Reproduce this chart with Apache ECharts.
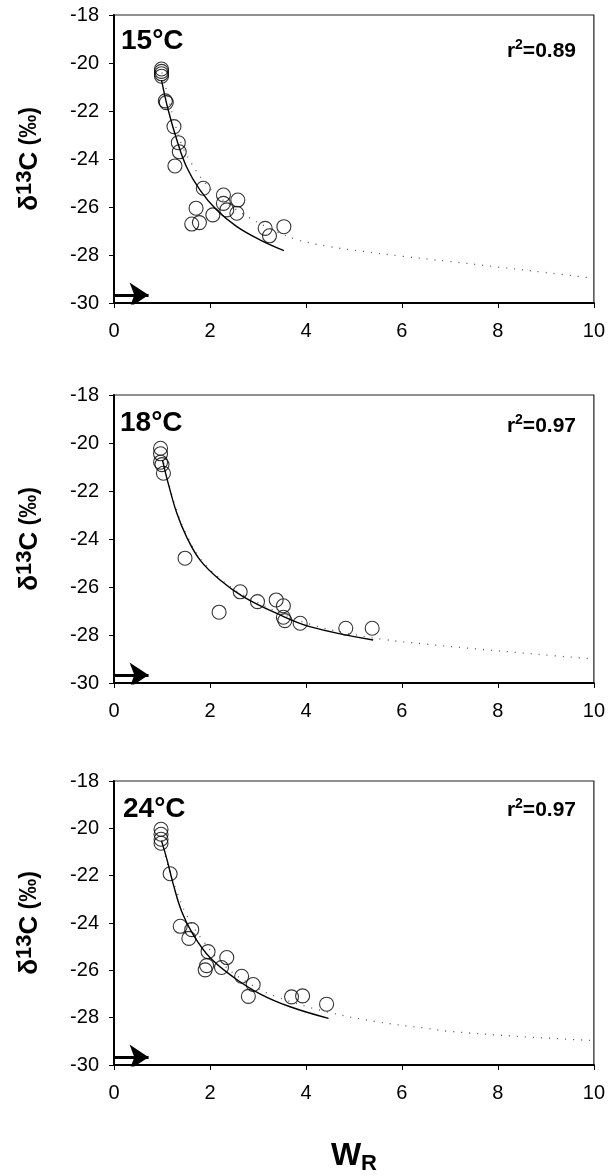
<!DOCTYPE html>
<html>
<head>
<meta charset="utf-8">
<script src="https://cdn.jsdelivr.net/npm/echarts@6/dist/echarts.min.js"></script>
<style>
  html, body { margin: 0; padding: 0; background: #fff; }
  #main { width: 608px; height: 1176px; }
</style>
</head>
<body>
<div id="main"></div>
<script>
// panel labels
const temps = ['15°C', '18°C', '24°C'];
const r2Values = ['0.89', '0.97', '0.97'];

// measured points [W_R, d13C]
const points15 = [
  [0.99, -20.25], [0.99, -20.35], [0.99, -20.45], [0.99, -20.55],
  [1.07, -21.58], [1.09, -21.65], [1.25, -22.65], [1.34, -23.32],
  [1.36, -23.7], [1.27, -24.29], [1.86, -25.22], [2.28, -25.5],
  [2.58, -25.71], [2.28, -25.85], [1.71, -26.05], [2.35, -26.12],
  [2.56, -26.26], [2.06, -26.33], [1.62, -26.71], [1.78, -26.65],
  [3.15, -26.89], [3.24, -27.2], [3.54, -26.82]
];
const points18 = [
  [0.97, -20.22], [0.97, -20.45], [0.97, -20.8], [1.0, -20.9],
  [1.03, -21.26], [1.48, -24.8], [2.19, -27.05], [2.63, -26.2],
  [2.99, -26.61], [3.38, -26.54], [3.53, -26.78], [3.53, -27.26],
  [3.56, -27.4], [3.88, -27.51], [4.83, -27.72], [5.38, -27.72]
];
const points24 = [
  [0.98, -20.04], [0.98, -20.25], [0.98, -20.46], [0.98, -20.63],
  [1.17, -21.92], [1.38, -24.14], [1.62, -24.28], [1.56, -24.65],
  [1.96, -25.21], [2.35, -25.46], [2.24, -25.88], [1.93, -25.8],
  [1.9, -25.98], [2.66, -26.25], [2.9, -26.6], [2.8, -27.1],
  [3.7, -27.12], [3.93, -27.08], [4.43, -27.43]
];

// fitted curves (solid)
const fit15 = [
  [0.99, -20.71], [1.13, -21.96], [1.31, -23.21], [1.51, -24.32], [1.79, -25.29],
  [2.14, -26.13], [2.56, -26.82], [3.04, -27.37], [3.54, -27.82]
];
const fit18 = [
  [1.01, -20.71], [1.13, -21.68], [1.31, -22.93], [1.51, -23.9], [1.79, -24.87],
  [2.21, -25.71], [2.69, -26.4], [3.39, -27.1], [4.08, -27.65], [5.4, -28.21]
];
const fit24 = [
  [0.99, -20.53], [1.1, -21.29], [1.24, -22.4], [1.41, -23.51], [1.65, -24.49],
  [2.0, -25.46], [2.49, -26.29], [3.04, -26.99], [3.67, -27.54], [4.47, -28.03]
];

// dotted reference curves
const ref15 = [
  [1.0, -20.4], [1.1, -21.2], [1.24, -22.3], [1.41, -23.4], [1.62, -24.2],
  [1.9, -25.0], [2.2, -25.6], [2.66, -26.25], [3.2, -26.85], [3.8, -27.35],
  [4.5, -27.65], [5.2, -27.85], [6.0, -28.05], [7.0, -28.27], [8.0, -28.5],
  [9.0, -28.73], [10.0, -28.97]
];
const ref18 = [
  [1.0, -20.5], [1.13, -21.6], [1.31, -22.85], [1.51, -23.82], [1.79, -24.8],
  [2.21, -25.65], [2.69, -26.33], [3.39, -27.02], [4.08, -27.55], [4.8, -27.9],
  [5.6, -28.18], [6.5, -28.38], [7.56, -28.58], [8.8, -28.8], [10.0, -29.0]
];
const ref24 = [
  [1.0, -20.5], [1.1, -21.4], [1.31, -22.68], [1.51, -23.65], [1.86, -24.76],
  [2.3, -25.8], [2.83, -26.57], [3.39, -27.12], [4.43, -27.75], [5.47, -28.17],
  [6.51, -28.45], [7.0, -28.58], [8.5, -28.8], [10.0, -28.97]
];

// arrow on the left, near the bottom
const arrowStart = [0, -29.67];
const arrowEnd = [0.72, -29.67];

const xRange = [0, 10];
const yRange = [-30, -18];

const pointSets = [points15, points18, points24];
const fitSets = [fit15, fit18, fit24];
const refSets = [ref15, ref18, ref24];

const FONT = 'Liberation Sans, Arial, sans-serif';
const gridTops = [15, 395, 781];
const labelTops = [27, 409, 795];
const labelLefts = [121, 120, 123];
const r2Tops = [38, 413, 797];

var chart = echarts.init(document.getElementById('main'));

var grids = [], xAxes = [], yAxes = [], series = [], titles = [];

for (let i = 0; i < 3; i++) {
  grids.push({
    left: 114, top: gridTops[i], width: 480, height: 288,
    show: true, borderColor: '#222', borderWidth: 1.2, backgroundColor: 'transparent'
  });
  xAxes.push({
    gridIndex: i, type: 'value', min: xRange[0], max: xRange[1], interval: 2,
    axisLine: { onZero: false, lineStyle: { color: '#000', width: 2 } },
    axisTick: { show: true, inside: false, length: 5, lineStyle: { color: '#000', width: 1 } },
    axisLabel: { color: '#000', fontSize: 20, fontFamily: FONT, margin: 18 },
    splitLine: { show: false },
    name: i === 2 ? '{w|W}{r|R}' : '',
    nameLocation: 'middle', nameGap: 72,
    nameTextStyle: {
      rich: {
        w: { fontSize: 32, fontWeight: 'bold', fontFamily: FONT, color: '#000' },
        r: { fontSize: 22, fontWeight: 'bold', fontFamily: FONT, color: '#000', verticalAlign: 'bottom', padding: [16, 0, 0, 0] }
      }
    }
  });
  yAxes.push({
    gridIndex: i, type: 'value', min: yRange[0], max: yRange[1], interval: 2,
    axisLine: { onZero: false, lineStyle: { color: '#000', width: 2 } },
    axisTick: { show: true, inside: false, length: 5, lineStyle: { color: '#000', width: 1 } },
    axisLabel: { color: '#000', fontSize: 20, fontFamily: FONT, margin: 15 },
    splitLine: { show: false },
    name: '{d|δ}{s|13}{c|C}{p| (‰)}',
    nameLocation: 'middle', nameRotate: 90, nameGap: 68,
    nameTextStyle: {
      rich: {
        d: { fontSize: 26, fontWeight: 'bold', fontFamily: FONT, color: '#000' },
        s: { fontSize: 22, fontWeight: 'bold', fontFamily: FONT, color: '#000', padding: [0, 0, 10, 0] },
        c: { fontSize: 26, fontWeight: 'bold', fontFamily: FONT, color: '#000' },
        p: { fontSize: 23, fontWeight: 'bold', fontFamily: FONT, color: '#000' }
      }
    }
  });

  series.push({
    type: 'line', xAxisIndex: i, yAxisIndex: i, data: refSets[i],
    smooth: 0.4, showSymbol: false, silent: true,
    lineStyle: { color: '#555', width: 1.3, type: [1, 7] }
  });
  series.push({
    type: 'line', xAxisIndex: i, yAxisIndex: i, data: fitSets[i],
    smooth: 0.4, showSymbol: false, silent: true,
    lineStyle: { color: '#000', width: 1.4 }
  });
  series.push({
    type: 'scatter', xAxisIndex: i, yAxisIndex: i, data: pointSets[i],
    symbol: 'circle', symbolSize: 14,
    itemStyle: { color: 'rgba(255,255,255,0)', borderColor: '#000', borderWidth: 1.1 }
  });
  series.push({
    type: 'lines', coordinateSystem: 'cartesian2d', xAxisIndex: i, yAxisIndex: i,
    data: [{ coords: [arrowStart, arrowEnd] }],
    symbol: ['none', 'arrow'], symbolSize: [11, 19],
    lineStyle: { color: '#000', width: 3, opacity: 1 },
    silent: true, z: 5
  });

  titles.push({
    text: temps[i], left: labelLefts[i], top: labelTops[i], padding: 0,
    textStyle: { fontSize: 28, fontWeight: 'bold', fontFamily: FONT, color: '#000' }
  });
  titles.push({
    text: '{a|r}{b|2}{a|=' + r2Values[i] + '}', right: 32, top: r2Tops[i], padding: 0,
    textStyle: {
      rich: {
        a: { fontSize: 21, fontWeight: 'bold', fontFamily: FONT, color: '#000' },
        b: { fontSize: 14, fontWeight: 'bold', fontFamily: FONT, color: '#000', padding: [0, 0, 12, 0] }
      }
    }
  });
}

chart.setOption({
  animation: false,
  title: titles,
  grid: grids,
  xAxis: xAxes,
  yAxis: yAxes,
  series: series
});
</script>
</body>
</html>
